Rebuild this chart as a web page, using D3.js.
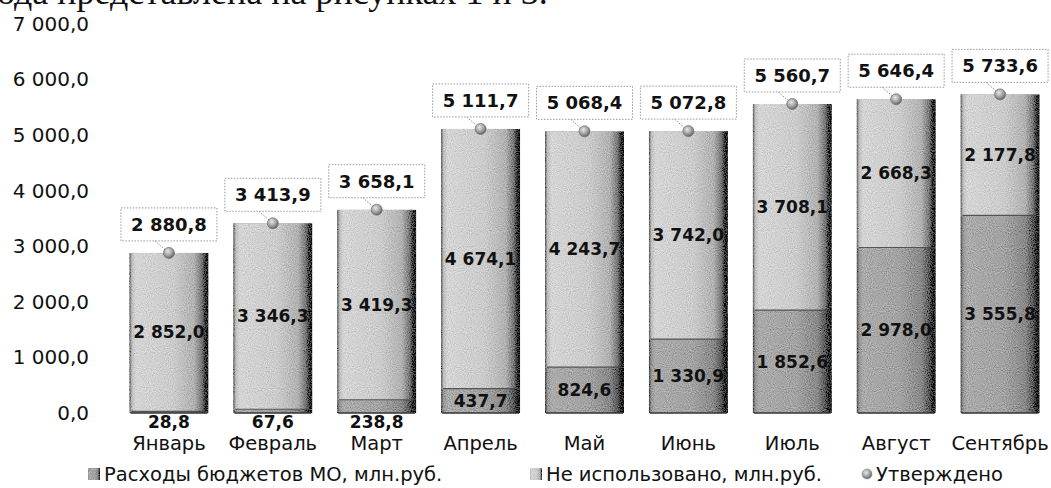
<!DOCTYPE html>
<html><head><meta charset="utf-8">
<script src="https://cdn.jsdelivr.net/npm/d3@7"></script>
<style>
html,body{margin:0;padding:0;background:#fff;}
svg{display:block;}
</style></head>
<body>
<script>
const categories = ["Январь","Февраль","Март","Апрель","Май","Июнь","Июль","Август","Сентябрь"];
const spent    = [28.8, 67.6, 238.8, 437.7, 824.6, 1330.9, 1852.6, 2978.0, 3555.8];
const unused   = [2852.0, 3346.3, 3419.3, 4674.1, 4243.7, 3742.0, 3708.1, 2668.3, 2177.8];
const approved = [2880.8, 3413.9, 3658.1, 5111.7, 5068.4, 5072.8, 5560.7, 5646.4, 5733.6];
const yTicks   = [0, 1000, 2000, 3000, 4000, 5000, 6000, 7000];
const seriesNames = ["Расходы бюджетов МО, млн.руб.", "Не использовано, млн.руб.", "Утверждено"];
const headerText = "ода представлена на рисунках 1 и 3.";

const W = 1051, H = 488;
const ru = d3.formatLocale({decimal: ",", thousands: "\u00a0", grouping: [3], currency: ["", ""]});
const fmt = ru.format(",.1f");

const svg = d3.select("body").append("svg").attr("width", W).attr("height", H);
const defs = svg.append("defs");

function hGrad(id, stops) {
  const g = defs.append("linearGradient").attr("id", id).attr("x1", 0).attr("x2", 1).attr("y1", 0).attr("y2", 0);
  stops.forEach(s => g.append("stop").attr("offset", s[0]).attr("stop-color", s[1]));
}
hGrad("gTop", [[0,"#555"],[0.03,"#bdbdbd"],[0.08,"#d4d4d4"],[0.55,"#cbcbcb"],[0.82,"#b0b0b0"],[0.92,"#747474"],[0.97,"#262626"],[1,"#111"]]);
hGrad("gBot", [[0,"#444"],[0.03,"#959595"],[0.08,"#aaaaaa"],[0.55,"#a2a2a2"],[0.82,"#888"],[0.92,"#575757"],[0.97,"#1c1c1c"],[1,"#0a0a0a"]]);
const rg = defs.append("radialGradient").attr("id", "gDot").attr("cx", 0.4).attr("cy", 0.35).attr("r", 0.7);
rg.append("stop").attr("offset", 0).attr("stop-color", "#e8e8e8");
rg.append("stop").attr("offset", 0.6).attr("stop-color", "#9a9a9a");
rg.append("stop").attr("offset", 1).attr("stop-color", "#555");

const f = defs.append("filter").attr("id", "grain").attr("x", 0).attr("y", 0).attr("width", "100%").attr("height", "100%");
f.append("feTurbulence").attr("type", "fractalNoise").attr("baseFrequency", 0.95).attr("numOctaves", 1).attr("seed", 4).attr("result", "n");
f.append("feColorMatrix").attr("in", "n").attr("type", "matrix")
  .attr("values", "0.33 0.33 0.33 0 0  0.33 0.33 0.33 0 0  0.33 0.33 0.33 0 0  0 0 0 0 1").attr("result", "g");
f.append("feComposite").attr("in", "SourceGraphic").attr("in2", "g").attr("operator", "arithmetic")
  .attr("k1", 0).attr("k2", 1).attr("k3", 0.75).attr("k4", -0.37).attr("result", "m");
f.append("feComposite").attr("in", "m").attr("in2", "SourceGraphic").attr("operator", "in");

// header fragment from the scanned page (cut at the top edge, as in the scan)
svg.append("text").attr("x", -3).attr("y", 4)
  .attr("font-family", "Liberation Serif").attr("font-size", 36).attr("fill", "#111")
  .text(headerText);

const x = d3.scaleBand().domain(categories).range([117, 1052]).paddingInner(0.24).paddingOuter(0.12);
const y = d3.scaleLinear().domain([0, 7000]).range([413, 24]);

// y axis labels (no line, no gridlines)
const yAxis = d3.axisLeft(y).tickValues(yTicks).tickFormat(fmt).tickSize(0).tickPadding(0);
const ya = svg.append("g").attr("transform", "translate(89,0)").call(yAxis);
ya.select(".domain").remove();
ya.selectAll("text").attr("font-family", "DejaVu Sans").attr("font-size", 20).attr("fill", "#111");

// x axis category labels
const xAxis = d3.axisBottom(x).tickSize(0).tickPadding(0);
const xa = svg.append("g").attr("transform", "translate(0,436)").call(xAxis);
xa.select(".domain").remove();
xa.selectAll("text").attr("font-family", "DejaVu Sans").attr("font-size", 19.5).attr("fill", "#111").attr("dy", "0.72em");

const rows = categories.map((c, i) => ({c, s: spent[i], u: unused[i], a: approved[i]}));

// bars
const bars = svg.append("g").attr("filter", "url(#grain)");
bars.selectAll("rect.bot").data(rows).join("rect").attr("class", "bot")
  .attr("x", d => x(d.c)).attr("width", x.bandwidth())
  .attr("y", d => y(d.s)).attr("height", d => y(0) - y(d.s))
  .attr("fill", "url(#gBot)");
bars.selectAll("rect.top").data(rows).join("rect").attr("class", "top")
  .attr("x", d => x(d.c)).attr("width", x.bandwidth())
  .attr("y", d => y(d.s + d.u)).attr("height", d => y(d.s) - y(d.s + d.u))
  .attr("fill", "url(#gTop)");
// segment boundary line and base line
svg.append("g").selectAll("line").data(rows).join("line")
  .attr("x1", d => x(d.c) + 2).attr("x2", d => x(d.c) + x.bandwidth() - 2)
  .attr("y1", d => y(d.s)).attr("y2", d => y(d.s))
  .attr("stroke", "#3a3a3a").attr("stroke-width", 1.2).attr("opacity", 0.8);
svg.append("g").selectAll("line").data(rows).join("line")
  .attr("x1", d => x(d.c) + 1).attr("x2", d => x(d.c) + x.bandwidth() - 1)
  .attr("y1", y(0)).attr("y2", y(0))
  .attr("stroke", "#333").attr("stroke-width", 1.5);

// labels inside segments
const lab = svg.append("g").attr("font-family", "DejaVu Sans").attr("font-weight", "bold").attr("font-size", 17)
  .attr("fill", "#111").attr("text-anchor", "middle");
lab.selectAll("text.u").data(rows).join("text").attr("class", "u")
  .attr("x", d => x(d.c) + x.bandwidth() / 2)
  .attr("y", d => (y(d.s) + y(d.s + d.u)) / 2).attr("dy", "0.36em")
  .text(d => fmt(d.u));
lab.selectAll("text.s").data(rows).join("text").attr("class", "s")
  .attr("x", d => x(d.c) + x.bandwidth() / 2)
  .attr("y", d => (y(0) - y(d.s) < 22) ? y(0) + 9 : (y(0) + y(d.s)) / 2)
  .attr("dy", "0.36em")
  .text(d => fmt(d.s));

// approved points with callouts
const bw = 96, bh = 33;
const call = svg.append("g").selectAll("g").data(rows).join("g")
  .attr("transform", d => `translate(${x(d.c) + x.bandwidth() / 2},${y(d.a)})`);
call.append("line").attr("x1", -14).attr("y1", -12).attr("x2", 0).attr("y2", 0)
  .attr("stroke", "#888").attr("stroke-width", 1).attr("stroke-dasharray", "1.5,1.5");
call.append("rect").attr("x", -bw / 2).attr("y", -12 - bh).attr("width", bw).attr("height", bh)
  .attr("fill", "#fff").attr("stroke", "#999").attr("stroke-width", 1).attr("stroke-dasharray", "1.5,1.5");
call.append("text").attr("x", 0).attr("y", -12 - bh / 2).attr("dy", "0.36em")
  .attr("text-anchor", "middle").attr("font-family", "DejaVu Sans").attr("font-weight", "bold")
  .attr("font-size", 18).attr("fill", "#111").text(d => fmt(d.a));
call.append("circle").attr("r", 5.5).attr("fill", "url(#gDot)").attr("stroke", "#777").attr("stroke-width", 0.8);

// legend
const leg = svg.append("g").attr("font-family", "DejaVu Sans").attr("font-size", 19.5).attr("fill", "#111");
const legItems = [
  {name: seriesNames[0], sx: 88, tx: 104, kind: "bot"},
  {name: seriesNames[1], sx: 530, tx: 546, kind: "top"},
  {name: seriesNames[2], sx: 862, tx: 876, kind: "dot"}
];
const ly = 474;
legItems.forEach(it => {
  if (it.kind === "dot") {
    leg.append("circle").attr("cx", it.sx + 5).attr("cy", ly).attr("r", 5).attr("fill", "url(#gDot)").attr("stroke", "#888").attr("stroke-width", 0.6);
  } else {
    leg.append("rect").attr("x", it.sx).attr("y", ly - 6).attr("width", 12).attr("height", 12)
      .attr("fill", it.kind === "bot" ? "url(#gBot)" : "url(#gTop)").attr("filter", "url(#grain)");
  }
  leg.append("text").attr("x", it.tx).attr("y", ly).attr("dy", "0.35em").text(it.name);
});
</script>
</body></html>
